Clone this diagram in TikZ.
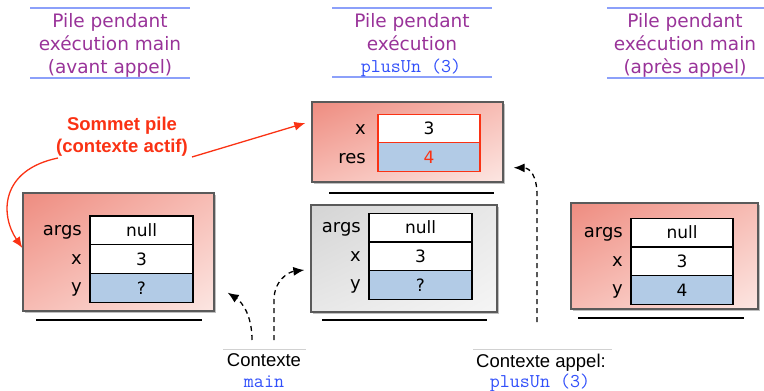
\documentclass[tikz,border=0pt]{standalone}
\usepackage{fontspec}
\setmainfont{DejaVu Sans}
\newfontfamily\arialfont{Liberation Sans}
\usetikzlibrary{shadows,shadings,arrows.meta,calc}
\definecolor{titlepurple}{RGB}{153,51,153}
\definecolor{rulelblue}{RGB}{140,160,250}
\definecolor{redtxt}{RGB}{250,50,20}
\definecolor{redA}{RGB}{238,140,128}
\definecolor{redB}{RGB}{247,188,180}
\definecolor{redC}{RGB}{252,230,226}
\definecolor{grayA}{RGB}{212,212,212}
\definecolor{grayB}{RGB}{232,232,232}
\definecolor{grayC}{RGB}{245,245,245}
\definecolor{cellblue}{RGB}{178,203,230}
\definecolor{codeblue}{RGB}{50,80,250}
\definecolor{boxborder}{RGB}{90,90,90}
\tikzset{
  titletxt/.style={text=titlepurple, font=\fontsize{18.5}{22}\selectfont, inner sep=0, anchor=base},
  codetxt/.style={text=codeblue, font=\ttfamily\fontsize{19.5}{22}\selectfont, inner sep=0, anchor=base},
  ctxtxt/.style={text=black, font=\arialfont\fontsize{18.5}{21}\selectfont, inner sep=0, anchor=base},
  sommettxt/.style={text=redtxt, font=\arialfont\bfseries\fontsize{18.5}{21}\selectfont, inner sep=0, anchor=base},
  bluerule/.style={draw=rulelblue, line width=1.3pt},
  grayrule/.style={draw=black!18, line width=1pt},
  baserule/.style={draw=black, line width=1.3pt},
  framebox/.style={rectangle, draw=boxborder, line width=1.3pt, inner sep=0,
    drop shadow={shadow xshift=2pt, shadow yshift=-2pt, opacity=0.25, fill=black}},
  redbox/.style={framebox, upper left=redA, upper right=redB, lower left=redB, lower right=redC},
  graybox/.style={framebox, upper left=grayA, upper right=grayB, lower left=grayB, lower right=grayC},
  cell/.style={rectangle, draw=black, line width=1.3pt, fill=white, inner sep=0,
    font=\fontsize{17}{20}\selectfont},
  bluecell/.style={cell, fill=cellblue},
  varlbl/.style={inner sep=0, anchor=base east, font=\fontsize{18}{21}\selectfont},
  redarrow/.style={draw=redtxt, line width=1.3pt, -{Latex[length=11pt,width=9pt]}},
  dasharrow/.style={draw=black, line width=1.3pt, dash pattern=on 5pt off 4pt, -{Latex[length=11pt,width=9pt]}}
}
\begin{document}
\begin{tikzpicture}[x=1pt,y=-1pt]
\useasboundingbox (0,0) rectangle (764,391);

% titles
\draw[bluerule] (30,8) -- (190,8);
\draw[bluerule] (30,78) -- (190,78);
\node[titletxt] (tl1) at (110,27) {Pile pendant};
\node[titletxt] (tl2) at (110,50) {exécution main};
\node[titletxt] (tl3) at (110,73) {(avant appel)};

\draw[bluerule] (332,8) -- (492,8);
\draw[bluerule] (332,77) -- (492,77);
\node[titletxt] (tm1) at (412,27) {Pile pendant};
\node[titletxt] (tm2) at (412,50) {exécution};
\node[codetxt] (tm3) at (411,72) {plusUn (3)};

\draw[bluerule] (607,8) -- (764,8);
\draw[bluerule] (607,78) -- (764,78);
\node[titletxt] (tr1) at (685,27) {Pile pendant};
\node[titletxt] (tr2) at (685,50) {exécution main};
\node[titletxt] (tr3) at (685,73) {(après appel)};

% box A (left)
\node[redbox, minimum width=191pt, minimum height=118pt] (boxA) at (118.5,252) {};
\node[cell, minimum width=103pt, minimum height=28.7pt] (A1) at (141.5,230.4) {null};
\node[cell, minimum width=103pt, minimum height=28.7pt] (A2) at (141.5,259.1) {3};
\node[bluecell, minimum width=103pt, minimum height=28.7pt] (A3) at (141.5,287.8) {?};
\node[varlbl] (lA1) at (82,235.5) {args};
\node[varlbl] (lA2) at (82,264.2) {x};
\node[varlbl] (lA3) at (82,292.9) {y};
\draw[baserule] (36,320) -- (202,320);

% box B (middle top)
\node[redbox, minimum width=191pt, minimum height=80pt] (boxB) at (407.5,142) {};
\node[cell, draw=redtxt, minimum width=102pt, minimum height=28.5pt] (B1) at (429,128.5) {3};
\node[bluecell, draw=redtxt, text=redtxt, minimum width=102pt, minimum height=28.5pt] (B2) at (429,157) {4};
\node[varlbl] (lB1) at (366,134.5) {x};
\node[varlbl] (lB2) at (366,163) {res};
\draw[baserule] (329,193) -- (494,193);

% box C (middle bottom)
\node[graybox, minimum width=186pt, minimum height=107pt] (boxC) at (404,258.5) {};
\node[cell, minimum width=103pt, minimum height=28.7pt] (C1) at (420.5,227.5) {null};
\node[cell, minimum width=103pt, minimum height=28.7pt] (C2) at (420.5,256.2) {3};
\node[bluecell, minimum width=103pt, minimum height=28.7pt] (C3) at (420.5,284.9) {?};
\node[varlbl] (lC1) at (361,232.5) {args};
\node[varlbl] (lC2) at (361,261.2) {x};
\node[varlbl] (lC3) at (361,289.9) {y};
\draw[baserule] (322,320) -- (487,320);

% box D (right)
\node[redbox, minimum width=187pt, minimum height=106pt] (boxD) at (664.5,256) {};
\node[cell, minimum width=102pt, minimum height=28.7pt] (D1) at (682,232.5) {null};
\node[cell, minimum width=102pt, minimum height=28.7pt] (D2) at (682,261.2) {3};
\node[bluecell, minimum width=102pt, minimum height=28.7pt] (D3) at (682,289.9) {4};
\node[varlbl] (lD1) at (623,237.5) {args};
\node[varlbl] (lD2) at (623,266.2) {x};
\node[varlbl] (lD3) at (623,294.9) {y};
\draw[baserule] (578,318) -- (744,318);

% sommet pile
\node[sommettxt] (som1) at (122,130) {Sommet pile};
\node[sommettxt] (som2) at (122,152) {(contexte actif)};
\coordinate (r1s) at (58,158);
\coordinate (r2s) at (192,157);
\draw[redarrow] (r1s) .. controls (0,170) and (0,215) .. ($(boxA.west)+(0,-4)$);
\draw[redarrow] (r2s) -- ($(boxB.west)+(-6,-19)$);

% contextes
\draw[grayrule] (223,349) -- (306,349);
\node[ctxtxt] (ctx1) at (264,366) {Contexte};
\node[codetxt] (ctx1b) at (264,387) {main};
\draw[grayrule] (473,349) -- (612,349);
\node[ctxtxt] (ctx2) at (541,367) {Contexte appel:};
\node[codetxt] (ctx2b) at (540,387) {plusUn (3)};

\coordinate (dA) at (252,340);
\coordinate (dB) at (274,340);
\coordinate (dC) at (537,322);
\draw[dasharrow] (dA) .. controls (252,315) and (242,302) .. ($(boxA.south east)+(13,-19)$);
\draw[dasharrow] (dB) -- (274,300) .. controls (274,281) and (288,272) .. ($(boxC.west)+(-6,11.5)$);
\draw[dasharrow] (dC) -- (537,195) .. controls (537,176) and (530,168) .. ($(boxB.south east)+(10,-15)$);
\end{tikzpicture}
\end{document}
